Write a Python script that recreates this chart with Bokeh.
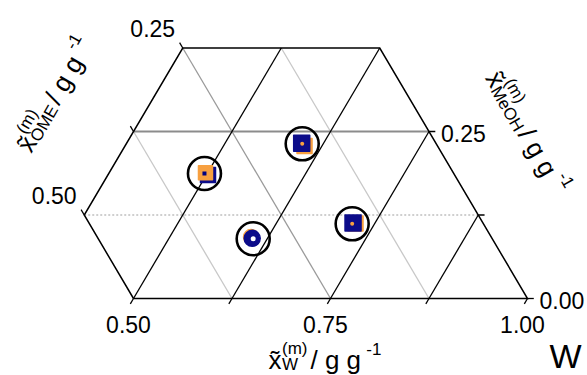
import math
from bokeh.plotting import figure
from bokeh.models import Range1d, ColumnDataSource
from bokeh.embed import file_html
from bokeh.resources import INLINE
from bokeh.core.properties import value

# ---- compositions (mass fractions W and MeOH; OME is the remainder) ----
w_circle = [0.4965, 0.5983, 0.6072, 0.7216]
m_circle = [0.1871, 0.2316, 0.0894, 0.1118]

w_exp = [0.4972, 0.6029, 0.6031, 0.7256]
m_exp = [0.1883, 0.2283, 0.0921, 0.1123]

w_sim = [0.5021, 0.5973, 0.6056, 0.7221]
m_sim = [0.1849, 0.2323, 0.0901, 0.1130]

marker_shape = ["square", "square", "circle", "square"]
exp_on_top = [True, False, False, False]
center_color = ["#000080", "#F7A040", "#FFFFFF", "#F7A040"]

# ---- axis ticks ----
w_ticks = [0.5, 0.625, 0.75, 0.875, 1.0]
w_tick_labels = ["0.50", "", "0.75", "", "1.00"]
ome_ticks = [0.25, 0.375, 0.5]
ome_tick_labels = ["0.25", "", "0.50"]
meoh_ticks = [0.0, 0.125, 0.25]
meoh_tick_labels = ["0.00", "", "0.25"]

W_MIN, M_MAX, OME_MAX = 0.375, 0.375, 0.5
SQ3 = math.sqrt(3) / 2

# canvas mapping (pixels per cartesian unit)
SX, SY = 788.0, 771.3
XL, YT = 0.33122, 0.38636
WIDTH, HEIGHT = 587, 375


def tern(w, m):
    return w + m / 2.0, m * SQ3


def px2data(px, py):
    return XL + px / SX, YT - py / SY


p = figure(width=WIDTH, height=HEIGHT, output_backend="svg", toolbar_location=None,
           x_range=Range1d(XL, XL + WIDTH / SX), y_range=Range1d(YT - HEIGHT / SY, YT),
           min_border=0, min_border_left=0, min_border_right=0,
           min_border_top=0, min_border_bottom=0)
p.axis.visible = False
p.xgrid.visible = False
p.ygrid.visible = False
p.outline_line_color = None
p.background_fill_color = "white"
p.border_fill_color = "white"


def seg(w0, m0, w1, m1, **kw):
    x0, y0 = tern(w0, m0)
    x1, y1 = tern(w1, m1)
    p.line([x0, x1], [y0, y1], **kw)


# ---- grid ----
# constant OME (parallel to the W-MeOH edge)
for c in [0.375, 0.125, 0.25]:
    col = "#9A9A9A" if c == 0.25 else "#C8C8C8"
    mtop = min(M_MAX, 1 - W_MIN - c)
    seg(1 - c, 0.0, 1 - c - mtop, mtop, line_color=col, line_width=1.3)

# constant MeOH (horizontal)
seg(max(W_MIN, 0.5 - 0.125), 0.125, 1 - 0.125, 0.125,
    line_color="#A0A0A0", line_width=1.2, line_dash="2 2")
seg(max(W_MIN, 0.5 - 0.25), 0.25, 1 - 0.25, 0.25,
    line_color="#8C8C8C", line_width=1.8)

# constant W (black)
for c in [0.5, 0.625, 0.75, 0.875]:
    m1 = min(M_MAX, 1 - c)
    seg(c, 0.0, c, m1, line_color="black", line_width=1.3)

# ---- boundary ----
bw = [0.5, 1.0, 1 - M_MAX, W_MIN, W_MIN, 0.5]
bm = [0.0, 0.0, M_MAX, M_MAX, 1 - W_MIN - OME_MAX, 0.0]
bx, by = zip(*[tern(a, b) for a, b in zip(bw, bm)])
p.line(list(bx), list(by), line_color="black", line_width=1.5, line_join="miter")

# ---- ticks and tick labels ----
T = 0.008
font = value("Liberation Sans")

for w, lab in zip(w_ticks, w_tick_labels):
    seg(w, 0.0, w, -T, line_color="black", line_width=1.3)
    if lab:
        x, y = tern(w, 0.0)
        p.text([x], [y], text=[lab], text_font=font, text_font_size="23px",
               text_align="center", text_baseline="middle", x_offset=-5, y_offset=26)

for o, lab in zip(ome_ticks, ome_tick_labels):
    m = 1 - W_MIN - o
    seg(W_MIN, m, W_MIN - T, m + T, line_color="black", line_width=1.3)
    if lab:
        x, y = tern(W_MIN, m)
        p.text([x], [y], text=[lab], text_font=font, text_font_size="23px",
               text_align="center", text_baseline="middle", x_offset=-30, y_offset=-20)

for m, lab in zip(meoh_ticks, meoh_tick_labels):
    seg(1 - m, m, 1 - m + T, m, line_color="black", line_width=1.3)
    if lab:
        x, y = tern(1 - m, m)
        p.text([x], [y], text=[lab], text_font=font, text_font_size="23px",
               text_align="left", text_baseline="middle", x_offset=12, y_offset=2)

# ---- data markers ----
ORANGE, NAVY = "#F7A040", "#0C0C8A"
for i in range(len(w_circle)):
    ex, ey = tern(w_exp[i], m_exp[i])
    sx, sy = tern(w_sim[i], m_sim[i])
    shape = marker_shape[i]
    layers = [(sx, sy, NAVY, 15), (ex, ey, ORANGE, 14)] if exp_on_top[i] else \
             [(ex, ey, ORANGE, 15), (sx, sy, NAVY, 16)]
    for x, y, c, s in layers:
        p.scatter([x], [y], marker=shape, size=s, fill_color=c, line_color=c,
                  line_width=1.5, line_join="round")
    cx, cy = tern(w_circle[i], m_circle[i])
    p.scatter([cx], [cy], marker="square" if i == 0 else "circle",
              size=4 if i != 2 else 5, fill_color=center_color[i], line_color=None)

cxs, cys = zip(*[tern(a, b) for a, b in zip(w_circle, m_circle)])
p.scatter(list(cxs), list(cys), marker="circle", size=33, fill_color=None,
          line_color="black", line_width=2.6)


# ---- axis titles (composed from pieces for sub/superscripts) ----
def text_width(s, size):
    adv = {'x': 500, '(': 333, ')': 333, 'm': 833, 'O': 778, 'M': 833, 'E': 667,
           'e': 556, 'H': 722, 'W': 944, '/': 278, ' ': 278, 'g': 556, '-': 333, '1': 556}
    return sum(adv.get(ch, 0) for ch in s) * size / 1000.0


def title(anchor_px, ang_deg, sub, big=26, small=17):
    a = math.radians(ang_deg)
    ux, uy = math.cos(a), -math.sin(a)
    vx, vy = -math.sin(a), -math.cos(a)
    block = max(text_width("(m)", small), text_width(sub, small))
    pieces = [("x\u0303", big, 0, text_width("x", big) + 0.5),
              ("(m)", small, 11, 0),
              (sub, small, -5, block + 3),
              (" / g g", big, 0, text_width(" / g g", big) - 2),
              ("-1", small, 11, 0)]
    pen = 0.0
    xs, ys, ts, fs = [], [], [], []
    for t, size, rise, adv in pieces:
        sxp = anchor_px[0] + pen * ux + rise * vx
        syp = anchor_px[1] + pen * uy + rise * vy
        X, Y = px2data(sxp, syp)
        xs.append(X); ys.append(Y); ts.append(t); fs.append(f"{size}px")
        pen += adv
    src = ColumnDataSource(dict(x=xs, y=ys, text=ts, fs=fs))
    p.text("x", "y", text="text", source=src, text_font=font, text_font_size="fs",
           angle=a, text_align="left", text_baseline="alphabetic", text_color="black")


title((268, 359), 0, "W")
title((23, 149), 60, "OME")
title((492, 73), -60, "MeOH")

# corner label
xW, yW = px2data(565, 355)
p.text([xW], [yW], text=["W"], text_font=font, text_font_size="34px",
       text_align="center", text_baseline="middle")

open("out.html", "w").write(file_html(p, INLINE))
